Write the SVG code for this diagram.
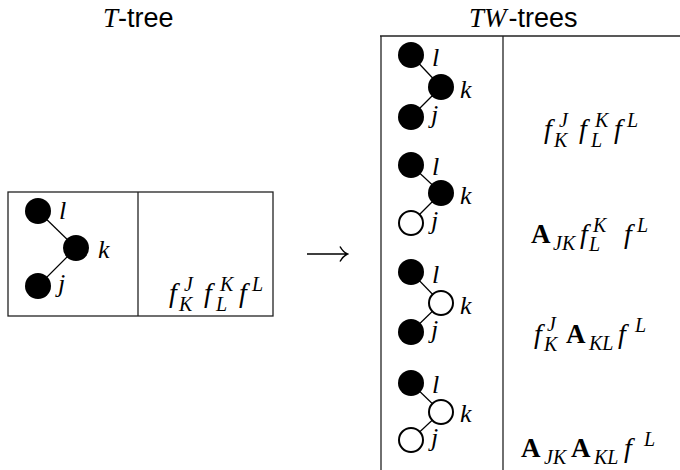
<svg xmlns="http://www.w3.org/2000/svg" width="680" height="470" viewBox="0 0 680 470">
<style>
.frame{fill:none;stroke:#222;stroke-width:1.3}
.edge{stroke:#000;stroke-width:1.2}
.full{fill:#000}
.open{fill:#fff;stroke:#000;stroke-width:2}
.lab{font-family:"Liberation Serif",serif;font-style:italic;font-size:26px;fill:#000}
.m{font-family:"Liberation Serif",serif;font-style:italic;font-size:28px;fill:#000}
.s{font-family:"Liberation Serif",serif;font-style:italic;font-size:20px;fill:#000}
.b{font-family:"Liberation Serif",serif;font-weight:bold;font-size:27px;fill:#000}
.t{font-family:"Liberation Sans",Arial,sans-serif;font-size:27px;fill:#000}
.ti{font-family:"Liberation Serif",serif;font-style:italic;font-size:27px;fill:#000}
</style>
<g id="titles">
<text x="103" y="27"><tspan class="ti">T</tspan><tspan class="t">-tree</tspan></text>
<text x="469" y="27"><tspan class="ti">TW</tspan><tspan class="t" dx="2">-trees</tspan></text>
</g>
<g id="frames">
<rect class="frame" x="8" y="192" width="265" height="124"/>
<line class="frame" x1="138" y1="192" x2="138" y2="316"/>
<line class="frame" x1="380" y1="36" x2="680" y2="36"/>
<line class="frame" x1="381" y1="36" x2="381" y2="470"/>
<line class="frame" x1="503" y1="36" x2="503" y2="470"/>
</g>
<g id="connectors">
<line class="edge" x1="38" y1="211" x2="76" y2="248"/>
<line class="edge" x1="76" y1="248" x2="38" y2="286"/>
<line class="edge" x1="411" y1="55" x2="441" y2="87"/>
<line class="edge" x1="441" y1="87" x2="411" y2="117"/>
<line class="edge" x1="411" y1="165" x2="441" y2="193"/>
<line class="edge" x1="441" y1="193" x2="411" y2="223"/>
<line class="edge" x1="411" y1="272" x2="441" y2="303"/>
<line class="edge" x1="441" y1="303" x2="411" y2="332"/>
<line class="edge" x1="411" y1="383" x2="441" y2="412"/>
<line class="edge" x1="441" y1="412" x2="411" y2="440"/>
<path id="arrow" d="M307,254 H347 M340,246.5 Q343,252 347.5,254 Q343,256 340,261.5" fill="none" stroke="#000" stroke-width="1.5"/>
</g>
<g id="tree-T">
<circle class="full" cx="38" cy="211" r="13"/>
<circle class="full" cx="76" cy="248" r="13"/>
<circle class="full" cx="38" cy="286" r="13"/>
<text class="lab" x="59" y="219">l</text>
<text class="lab" x="98" y="258">k</text>
<text class="lab" x="58" y="292">j</text>
</g>
<g id="tree-TW1">
<circle class="full" cx="411" cy="55" r="13"/>
<circle class="full" cx="441" cy="87" r="13"/>
<circle class="full" cx="411" cy="117" r="13"/>
<text class="lab" x="432" y="66">l</text>
<text class="lab" x="460" y="98">k</text>
<text class="lab" x="431" y="123">j</text>
</g>
<g id="tree-TW2">
<circle class="full" cx="411" cy="165" r="13"/>
<circle class="full" cx="441" cy="193" r="13"/>
<circle class="open" cx="411" cy="223" r="12"/>
<text class="lab" x="432" y="175">l</text>
<text class="lab" x="460" y="204">k</text>
<text class="lab" x="431" y="229">j</text>
</g>
<g id="tree-TW3">
<circle class="full" cx="411" cy="272" r="13"/>
<circle class="open" cx="441" cy="303" r="12"/>
<circle class="full" cx="411" cy="332" r="13"/>
<text class="lab" x="432" y="283">l</text>
<text class="lab" x="460" y="314">k</text>
<text class="lab" x="431" y="338">j</text>
</g>
<g id="tree-TW4">
<circle class="full" cx="411" cy="383" r="13"/>
<circle class="open" cx="441" cy="412" r="12"/>
<circle class="open" cx="411" cy="440" r="12"/>
<text class="lab" x="432" y="393">l</text>
<text class="lab" x="460" y="422">k</text>
<text class="lab" x="431" y="446">j</text>
</g>
<g id="formula-T">
<text class="m" x="169" y="302">f</text><text class="s" x="184" y="291">J</text><text class="s" x="179" y="311">K</text>
<text class="m" x="204" y="302">f</text><text class="s" x="220" y="291">K</text><text class="s" x="216" y="311">L</text>
<text class="m" x="239" y="302">f</text><text class="s" x="252" y="291">L</text>
</g>
<g id="formula-TW1">
<text class="m" x="544" y="138">f</text><text class="s" x="559" y="127">J</text><text class="s" x="554" y="147">K</text>
<text class="m" x="579" y="138">f</text><text class="s" x="595" y="127">K</text><text class="s" x="591" y="147">L</text>
<text class="m" x="614" y="138">f</text><text class="s" x="627" y="127">L</text>
</g>
<g id="formula-TW2">
<text class="b" x="531" y="243">A</text><text class="s" x="553" y="250">JK</text>
<text class="m" x="580" y="243">f</text><text class="s" x="593" y="232">K</text><text class="s" x="589" y="251">L</text>
<text class="m" x="624" y="243">f</text><text class="s" x="637" y="232">L</text>
</g>
<g id="formula-TW3">
<text class="m" x="534" y="343">f</text><text class="s" x="547" y="331">J</text><text class="s" x="544" y="351">K</text>
<text class="b" x="566" y="343">A</text><text class="s" x="589" y="350">KL</text>
<text class="m" x="618" y="343">f</text><text class="s" x="635" y="332">L</text>
</g>
<g id="formula-TW4">
<text class="b" x="521" y="457">A</text><text class="s" x="544" y="464">JK</text>
<text class="b" x="571" y="457">A</text><text class="s" x="594" y="464">KL</text>
<text class="m" x="624" y="457">f</text><text class="s" x="644" y="446">L</text>
</g>
</svg>
